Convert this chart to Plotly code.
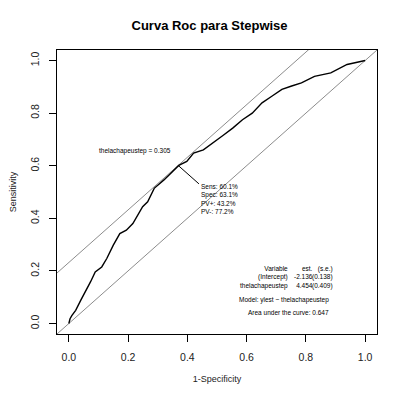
import plotly.graph_objects as go

# ROC curve
fpr = [0, 0.004, 0.01, 0.023, 0.04, 0.056, 0.073, 0.089, 0.111, 0.128, 0.15, 0.172, 0.194,
       0.216, 0.233, 0.249, 0.266, 0.288, 0.321, 0.354, 0.371, 0.398, 0.421, 0.454, 0.487,
       0.52, 0.553, 0.586, 0.619, 0.652, 0.685, 0.719, 0.752, 0.785, 0.829, 0.884, 0.939,
       0.989, 1.0]
tpr = [0, 0.018, 0.03, 0.05, 0.088, 0.12, 0.158, 0.196, 0.215, 0.247, 0.298, 0.342, 0.355,
       0.38, 0.412, 0.444, 0.463, 0.514, 0.546, 0.584, 0.601, 0.616, 0.648, 0.66, 0.686,
       0.715, 0.743, 0.775, 0.8, 0.839, 0.864, 0.89, 0.903, 0.915, 0.94, 0.953, 0.985,
       0.997, 1.0]

sens = 0.601
spec = 0.631
var_name = "thelachapeustep"
cutoff_label = "thelachapeustep = 0.305"
stats_lines = ["Sens: 60.1%", "Spec: 63.1%", "PV+: 43.2%", "PV-: 77.2%"]
tab_col1 = ["Variable", "(Intercept)", var_name]
tab_col2 = ["est.", "-2.136", "4.454"]
tab_col3 = ["(s.e.)", "(0.138)", "(0.409)"]
model_text = "Model: ylest ~ " + var_name
auc_text = "Area under the curve: 0.647"
x_ticks = [0, 0.2, 0.4, 0.6, 0.8, 1.0]
x_tick_labels = ["0.0", "0.2", "0.4", "0.6", "0.8", "1.0"]

FONT = "Liberation Sans, Arial, sans-serif"
opt_x = 1 - spec
opt_y = sens
intercept = sens + spec - 1
ext = [-0.2, 1.2]

fig = go.Figure()
fig.add_trace(go.Scatter(x=ext, y=ext, mode="lines",
                         line=dict(color="#8c8c8c", width=1), hoverinfo="skip"))
fig.add_trace(go.Scatter(x=ext, y=[v + intercept for v in ext], mode="lines",
                         line=dict(color="#8c8c8c", width=1), hoverinfo="skip"))
fig.add_trace(go.Scatter(x=fpr, y=tpr, mode="lines",
                         line=dict(color="black", width=1.4), hoverinfo="skip"))
# pointer segment from optimal point to stats text
seg_end_x = opt_x + 0.07
seg_end_y = opt_y - 0.07
fig.add_trace(go.Scatter(x=[opt_x, seg_end_x], y=[opt_y, seg_end_y], mode="lines",
                         line=dict(color="black", width=1), hoverinfo="skip"))

small = dict(family=FONT, size=6.5, color="black")
annotations = [
    dict(x=opt_x - 0.018, y=opt_y + 0.055, xref="x", yref="y", text=cutoff_label,
         showarrow=False, xanchor="right", yanchor="middle", font=small),
    dict(x=seg_end_x, y=seg_end_y + 0.01, xref="x", yref="y", text="<br>".join(stats_lines),
         showarrow=False, xanchor="left", yanchor="top", align="left", font=small),
]
tab_y = 0.23
annotations += [
    dict(x=0.745, y=tab_y, xref="x", yref="y", text="<br>".join(tab_col1), showarrow=False,
         xanchor="right", yanchor="top", align="right", font=small),
    dict(x=0.83, y=tab_y, xref="x", yref="y", text="<br>".join(tab_col2), showarrow=False,
         xanchor="right", yanchor="top", align="right", font=small),
    dict(x=0.897, y=tab_y, xref="x", yref="y", text="<br>".join(tab_col3), showarrow=False,
         xanchor="right", yanchor="top", align="right", font=small),
    dict(x=0.885, y=0.09, xref="x", yref="y", text=model_text, showarrow=False,
         xanchor="right", yanchor="middle", font=small),
    dict(x=0.885, y=0.04, xref="x", yref="y", text=auc_text, showarrow=False,
         xanchor="right", yanchor="middle", font=small),
]

fig.update_layout(
    width=403, height=396,
    margin=dict(l=51, r=26, t=50, b=62),
    paper_bgcolor="white", plot_bgcolor="white",
    showlegend=False,
    title=dict(text="<b>Curva Roc para Stepwise</b>", x=0.52, xanchor="center",
               y=1 - 25 / 396, yanchor="middle",
               font=dict(family=FONT, size=13, color="black")),
    annotations=annotations,
    font=dict(family=FONT, color="#222"),
)
fig.update_xaxes(range=[-0.04, 1.04], tickvals=x_ticks, ticktext=x_tick_labels,
                 showgrid=False, zeroline=False, showline=True, mirror=True,
                 linecolor="black", linewidth=1, ticks="outside", ticklen=7,
                 tickcolor="black", tickfont=dict(family=FONT, size=10.5, color="#222"),
                 ticklabelstandoff=6,
                 title=dict(text="1-Specificity", font=dict(family=FONT, size=9, color="#222"),
                            standoff=14))
fig.update_yaxes(range=[-0.04, 1.04], tickvals=x_ticks, ticktext=x_tick_labels,
                 showgrid=False, zeroline=False, showline=True, mirror=True,
                 linecolor="black", linewidth=1, ticks="outside", ticklen=7,
                 tickcolor="black", tickangle=-90,
                 tickfont=dict(family=FONT, size=10.5, color="#222"),
                 ticklabelstandoff=6,
                 title=dict(text="Sensitivity", font=dict(family=FONT, size=9, color="#222"),
                            standoff=10))

fig.write_html("out.html", config={"displayModeBar": False},
               post_script="document.body.style.margin='0';")
